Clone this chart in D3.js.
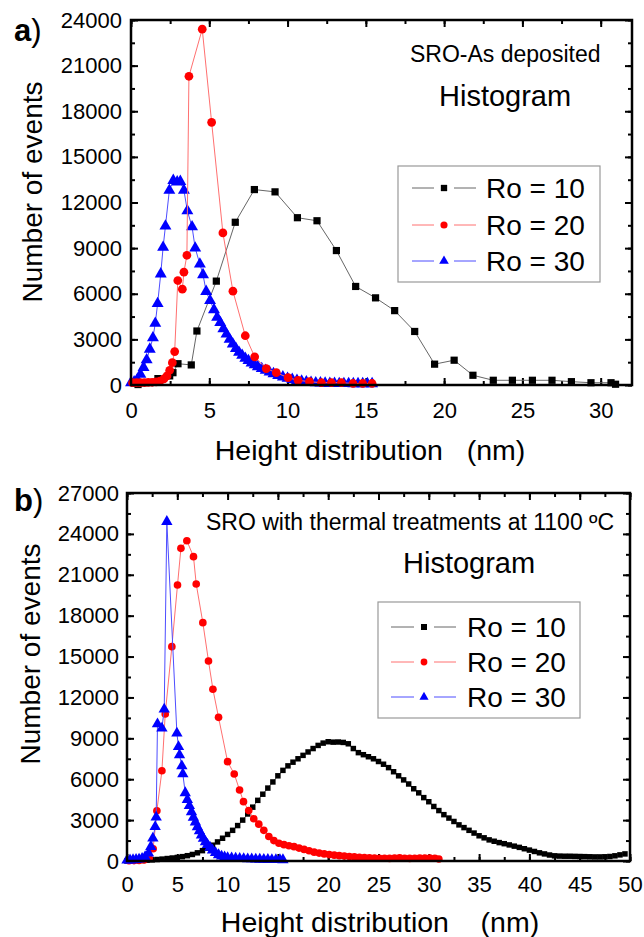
<!DOCTYPE html>
<html>
<head>
<meta charset="utf-8">
<script src="https://cdnjs.cloudflare.com/ajax/libs/d3/7.8.5/d3.min.js"></script>
<style>
  html, body { margin: 0; padding: 0; background: #fff; }
  svg { display: block; }
  text { font-family: 'Liberation Sans', Arial, sans-serif; fill: #000; }
  .tick text { font-size: 22px; }
  .tick line { stroke: #000; stroke-width: 2; }
</style>
</head>
<body>
<div id="chart"></div>
<script>
'use strict';

// ---- data: [height (nm), number of events] ----

// panel a) SRO-As deposited
var aRo10 = [
  [0.45, 30], [1.72, 420], [2.47, 600], [2.68, 810], [3.0, 1400], [3.85, 1320],
  [4.21, 3550], [5.45, 6830], [6.66, 10700], [7.88, 12850], [9.2, 12700],
  [10.63, 11000], [11.88, 10800], [13.12, 8840], [14.35, 6480], [15.62, 5730],
  [16.84, 4890], [18.12, 3520], [19.39, 1370], [20.64, 1630], [21.84, 640],
  [23.14, 310], [24.36, 310], [25.64, 310], [26.89, 310], [28.13, 220],
  [29.38, 150], [30.66, 150], [30.95, 50]
];
var aRo20 = [
  [0.1, 150], [0.35, 150], [0.6, 150], [0.85, 150], [1.1, 170], [1.35, 180],
  [1.6, 200], [1.85, 260], [2.1, 400], [2.3, 600], [2.47, 970], [2.64, 1470],
  [2.79, 2200], [2.99, 6870], [3.28, 6300], [3.38, 7420], [3.57, 8530],
  [3.7, 20300], [4.55, 23400], [5.15, 17270], [5.87, 10000], [6.51, 6170],
  [7.3, 3240], [7.9, 1850], [8.64, 1080], [9.28, 810], [10.03, 480],
  [10.67, 310], [11.4, 220], [12.16, 150], [12.8, 150], [13.44, 150],
  [14.18, 100], [14.8, 100], [15.4, 100]
];
var aRo30 = [
  [0.0, 150], [0.2, 200], [0.4, 350], [0.6, 700], [0.8, 1150], [1.0, 1650],
  [1.2, 2350], [1.4, 3100], [1.55, 4050], [1.7, 5350], [1.9, 7300], [2.05, 9050],
  [2.2, 10450], [2.45, 12800], [2.7, 13450], [2.95, 13350], [3.15, 13380],
  [3.38, 12800], [3.6, 11450], [3.9, 10400], [4.1, 9000], [4.4, 7950],
  [4.6, 7250], [4.8, 6150], [5.05, 5550], [5.3, 4950], [5.5, 4450], [5.7, 4100],
  [5.9, 3700], [6.1, 3350], [6.3, 3000], [6.5, 2700], [6.7, 2400], [6.9, 2150],
  [7.1, 1950], [7.3, 1750], [7.5, 1600], [7.7, 1450], [7.9, 1330], [8.1, 1200],
  [8.35, 1080], [8.6, 960], [8.85, 850], [9.1, 740], [9.4, 620], [9.7, 530],
  [10.0, 440], [10.3, 360], [10.6, 300], [10.9, 250], [11.2, 200], [11.5, 170],
  [11.8, 145], [12.1, 130], [12.4, 115], [12.7, 105], [13.0, 100], [13.3, 95],
  [13.6, 90], [13.9, 90], [14.2, 85], [14.5, 85], [14.8, 85], [15.1, 80],
  [15.4, 80]
];

// panel b) SRO with thermal treatments at 1100 ºC
var bRo10 = [
  [0, 0], [0.5, 20], [1, 30], [1.5, 40], [2, 60], [2.5, 80], [3, 110],
  [3.5, 140], [4, 180], [4.5, 220], [5, 260], [5.5, 320], [6, 390], [6.5, 480],
  [7, 600], [7.5, 760], [8, 950], [8.5, 1160], [9, 1400], [9.5, 1670],
  [10, 1950], [10.5, 2250], [11, 2600], [11.5, 3000], [12, 3450], [12.5, 3950],
  [13, 4450], [13.5, 4900], [14, 5350], [14.5, 5800], [15, 6250], [15.5, 6650],
  [16, 6980], [16.5, 7250], [17, 7500], [17.5, 7750], [18, 8000], [18.5, 8250],
  [19, 8480], [19.5, 8650], [20, 8750], [20.5, 8720], [21, 8730], [21.5, 8700],
  [22, 8600], [22.5, 8250], [23, 7950], [23.5, 7800], [24, 7650], [24.5, 7500],
  [25, 7300], [25.5, 7100], [26, 6850], [26.5, 6550], [27, 6250], [27.5, 5950],
  [28, 5650], [28.5, 5300], [29, 5000], [29.5, 4650], [30, 4350], [30.5, 4000],
  [31, 3700], [31.5, 3400], [32, 3150], [32.5, 2900], [33, 2650], [33.5, 2450],
  [34, 2250], [34.5, 2050], [35, 1850], [35.5, 1700], [36, 1550], [36.5, 1450],
  [37, 1350], [37.5, 1270], [38, 1180], [38.5, 1090], [39, 1000], [39.5, 900],
  [40, 800], [40.5, 700], [41, 600], [41.5, 520], [42, 440], [42.5, 380],
  [43, 360], [43.5, 350], [44, 350], [44.5, 340], [45, 330], [45.5, 320],
  [46, 310], [46.5, 300], [47, 300], [47.5, 310], [48, 330], [48.5, 380],
  [49, 450], [49.5, 520]
];
var bRo20 = [
  [0.2, 20], [0.7, 30], [1.2, 40], [1.7, 80], [2.2, 200], [2.6, 900],
  [2.97, 3690], [3.47, 6625], [3.8, 10785], [4.46, 15723], [5.02, 20250],
  [5.36, 22940], [5.95, 23500], [6.61, 22330], [6.88, 20324], [7.54, 17484],
  [8.1, 14674], [8.54, 12600], [9.1, 10540], [10.0, 7286], [10.66, 6383],
  [11.19, 5209], [11.58, 4352], [12.1, 3700], [12.6, 3100], [13.1, 2700],
  [13.6, 2250], [14.1, 1800], [14.6, 1500], [15.1, 1300], [15.6, 1200],
  [16.1, 1120], [16.6, 1050], [17.1, 950], [17.6, 850], [18.1, 750],
  [18.6, 650], [19.1, 580], [19.6, 520], [20.1, 470], [20.6, 430], [21.1, 390],
  [21.6, 360], [22.1, 330], [22.6, 300], [23.1, 270], [23.6, 250], [24.1, 230],
  [24.6, 210], [25.1, 200], [25.6, 200], [26.1, 190], [26.6, 220], [27.1, 240],
  [27.6, 200], [28.1, 190], [28.6, 200], [29.1, 210], [29.6, 220], [30.1, 220],
  [30.6, 200], [31.0, 150]
];
var bRo30 = [
  [0.0, 50], [0.3, 60], [0.6, 80], [0.9, 100], [1.2, 130], [1.5, 180],
  [1.8, 300], [2.14, 563], [2.37, 1050], [2.57, 1663], [2.8, 2517], [2.9, 3206],
  [3.03, 10052], [3.47, 9736], [3.7, 11130], [3.96, 24895], [4.96, 9369],
  [5.12, 8386], [5.22, 7777], [5.45, 6970], [5.55, 6383], [5.79, 5000],
  [6.0, 4500], [6.2, 4050], [6.41, 3600], [6.6, 3200], [6.8, 2850], [7.0, 2500],
  [7.2, 2200], [7.4, 1900], [7.6, 1650], [7.8, 1400], [8.0, 1200], [8.25, 1000],
  [8.5, 800], [8.8, 600], [9.1, 450], [9.4, 350], [9.7, 280], [10.0, 240],
  [10.4, 210], [10.8, 190], [11.2, 170], [11.6, 160], [12.0, 150], [12.4, 140],
  [12.8, 130], [13.2, 120], [13.6, 110], [14.0, 100], [14.4, 95], [14.8, 90],
  [15.2, 85], [15.5, 80]
];

// ticks
var xTicksA = [0, 5, 10, 15, 20, 25, 30];
var yTicksA = [0, 3000, 6000, 9000, 12000, 15000, 18000, 21000, 24000];
var xTicksB = [0, 5, 10, 15, 20, 25, 30, 35, 40, 45, 50];
var yTicksB = [0, 3000, 6000, 9000, 12000, 15000, 18000, 21000, 24000, 27000];

var legendLabels = ['Ro = 10', 'Ro = 20', 'Ro = 30'];


// ---- styles of the three series ----
var SERIES = [
  {symbol: d3.symbolSquare, fill: '#000', line: '#666'},
  {symbol: d3.symbolCircle, fill: '#ff0000', line: '#ff7070'},
  {symbol: d3.symbolTriangle, fill: '#0000ff', line: '#4d4dff'}
];


var svg = d3.select('#chart').append('svg')
    .attr('width', 644)
    .attr('height', 937)
    .attr('viewBox', '0 0 644 937');


/**
 * Draw one framed histogram panel.
 */
var drawPanel = function (o) {
  var g,
      lg,
      line,
      minorX,
      minorY,
      tag,
      x,
      y;

  x = d3.scaleLinear().domain([0, o.xMax]).range([o.left, o.right]);
  y = d3.scaleLinear().domain([0, o.yMax]).range([o.bottom, o.top]);

  g = svg.append('g');

  minorX = d3.range(0, o.xMax + 0.01, 2.5);
  minorY = d3.range(0, o.yMax + 1, 1500);

  // minor ticks, all four sides, pointing inward
  [
    [d3.axisBottom(x), 'translate(0,' + o.bottom + ')', minorX],
    [d3.axisTop(x), 'translate(0,' + o.top + ')', minorX],
    [d3.axisLeft(y), 'translate(' + o.left + ',0)', minorY],
    [d3.axisRight(y), 'translate(' + o.right + ',0)', minorY]
  ].forEach(function (a) {
    g.append('g')
        .attr('transform', a[1])
        .call(a[0].tickValues(a[2]).tickSize(-4).tickFormat(''))
        .call(function (s) { s.select('.domain').remove(); });
  });

  // major ticks with labels
  g.append('g')
      .attr('transform', 'translate(0,' + o.bottom + ')')
      .call(d3.axisBottom(x).tickValues(o.xTicks).tickSize(-7)
          .tickPadding(o.xPad).tickFormat(d3.format('d')))
      .call(function (s) { s.select('.domain').remove(); });
  g.append('g')
      .attr('transform', 'translate(0,' + o.top + ')')
      .call(d3.axisTop(x).tickValues(o.xTicks).tickSize(-7).tickFormat(''))
      .call(function (s) { s.select('.domain').remove(); });
  g.append('g')
      .attr('transform', 'translate(' + o.left + ',0)')
      .call(d3.axisLeft(y).tickValues(o.yTicks).tickSize(-7)
          .tickPadding(o.yPad).tickFormat(d3.format('d')))
      .call(function (s) { s.select('.domain').remove(); });
  g.append('g')
      .attr('transform', 'translate(' + o.right + ',0)')
      .call(d3.axisRight(y).tickValues(o.yTicks).tickSize(-7).tickFormat(''))
      .call(function (s) { s.select('.domain').remove(); });

  // series
  line = d3.line()
      .x(function (d) { return x(d[0]); })
      .y(function (d) { return y(d[1]); });

  o.order.forEach(function (i) {
    var s = SERIES[i],
        data = o.data[i];

    g.append('path')
        .attr('d', line(data))
        .attr('fill', 'none')
        .attr('stroke', s.line)
        .attr('stroke-width', 1);

    g.append('g').selectAll('path')
        .data(data)
        .enter().append('path')
        .attr('transform', function (d) {
          return 'translate(' + x(d[0]) + ',' + y(d[1]) + ')';
        })
        .attr('d', d3.symbol().type(s.symbol).size(o.sizes[i]))
        .attr('fill', s.fill);
  });

  // frame
  g.append('rect')
      .attr('x', o.left)
      .attr('y', o.top)
      .attr('width', o.right - o.left)
      .attr('height', o.bottom - o.top)
      .attr('fill', 'none')
      .attr('stroke', '#000')
      .attr('stroke-width', 2.5);

  // legend
  lg = g.append('g');
  lg.append('rect')
      .attr('x', o.legend.x)
      .attr('y', o.legend.y)
      .attr('width', o.legend.w)
      .attr('height', o.legend.h)
      .attr('fill', '#fff')
      .attr('stroke', '#999')
      .attr('stroke-width', 1.2);
  legendLabels.forEach(function (label, i) {
    var s = SERIES[i],
        cy = o.legend.rows[i],
        lx = o.legend.lineX;

    lg.append('line')
        .attr('x1', lx[0]).attr('x2', lx[1] - 10)
        .attr('y1', cy).attr('y2', cy)
        .attr('stroke', s.line).attr('stroke-width', 1);
    lg.append('line')
        .attr('x1', lx[1] + 10).attr('x2', lx[2])
        .attr('y1', cy).attr('y2', cy)
        .attr('stroke', s.line).attr('stroke-width', 1);
    lg.append('path')
        .attr('transform', 'translate(' + lx[1] + ',' + cy + ')')
        .attr('d', d3.symbol().type(s.symbol).size(o.legend.size))
        .attr('fill', s.fill);
    lg.append('text')
        .attr('x', o.legend.textX)
        .attr('y', cy)
        .attr('dy', '0.36em')
        .style('font-size', '28px')
        .text(label);
  });

  // titles
  g.append('text')
      .attr('x', o.xTitle[0])
      .attr('y', o.xTitle[1])
      .attr('text-anchor', 'middle')
      .style('font-size', '28.5px')
      .style('white-space', 'pre')
      .text(o.xTitle[2]);
  g.append('text')
      .attr('transform', 'translate(' + o.yTitle[0] + ',' + o.yTitle[1] +
          ') rotate(-90)')
      .attr('text-anchor', 'middle')
      .style('font-size', '28px')
      .text('Number of events');

  tag = g.append('text')
      .attr('x', 14)
      .attr('y', o.tagY)
      .style('font-size', '31px');
  tag.append('tspan').style('font-weight', 'bold').text(o.tag);
  tag.append('tspan').text(')');

  g.append('text')
      .attr('x', o.note[0])
      .attr('y', o.note[1])
      .style('font-size', o.note[3])
      .text(o.note[2]);
  g.append('text')
      .attr('x', o.hist[0])
      .attr('y', o.hist[1])
      .style('font-size', '29px')
      .text('Histogram');
};


drawPanel({
  left: 131, right: 632, top: 20, bottom: 385,
  xMax: 32, yMax: 24000,
  xTicks: xTicksA, yTicks: yTicksA,
  xPad: 17, yPad: 9,
  data: [aRo10, aRo20, aRo30],
  order: [0, 2, 1],
  sizes: [52, 60, 62],
  legend: {
    x: 398, y: 166, w: 202, h: 116,
    rows: [188, 225, 261],
    lineX: [412, 444, 476],
    textX: 486,
    size: 40
  },
  xTitle: [370, 460, 'Height distribution   (nm)'],
  yTitle: [42, 192],
  tag: 'a', tagY: 41,
  note: [410, 62, 'SRO-As deposited', '23px'],
  hist: [439, 106]
});

drawPanel({
  left: 127, right: 630, top: 493, bottom: 861,
  xMax: 50, yMax: 27000,
  xTicks: xTicksB, yTicks: yTicksB,
  xPad: 15, yPad: 8,
  data: [bRo10, bRo20, bRo30],
  order: [0, 1, 2],
  sizes: [30, 46, 56],
  legend: {
    x: 378, y: 602, w: 202, h: 116,
    rows: [627, 662, 697],
    lineX: [391, 424, 456],
    textX: 467,
    size: 36
  },
  xTitle: [380, 932, 'Height distribution    (nm)'],
  yTitle: [40, 654],
  tag: 'b', tagY: 511,
  note: [206, 530, 'SRO with thermal treatments at 1100 ºC', '23px'],
  hist: [403, 573]
});
</script>
</body>
</html>
